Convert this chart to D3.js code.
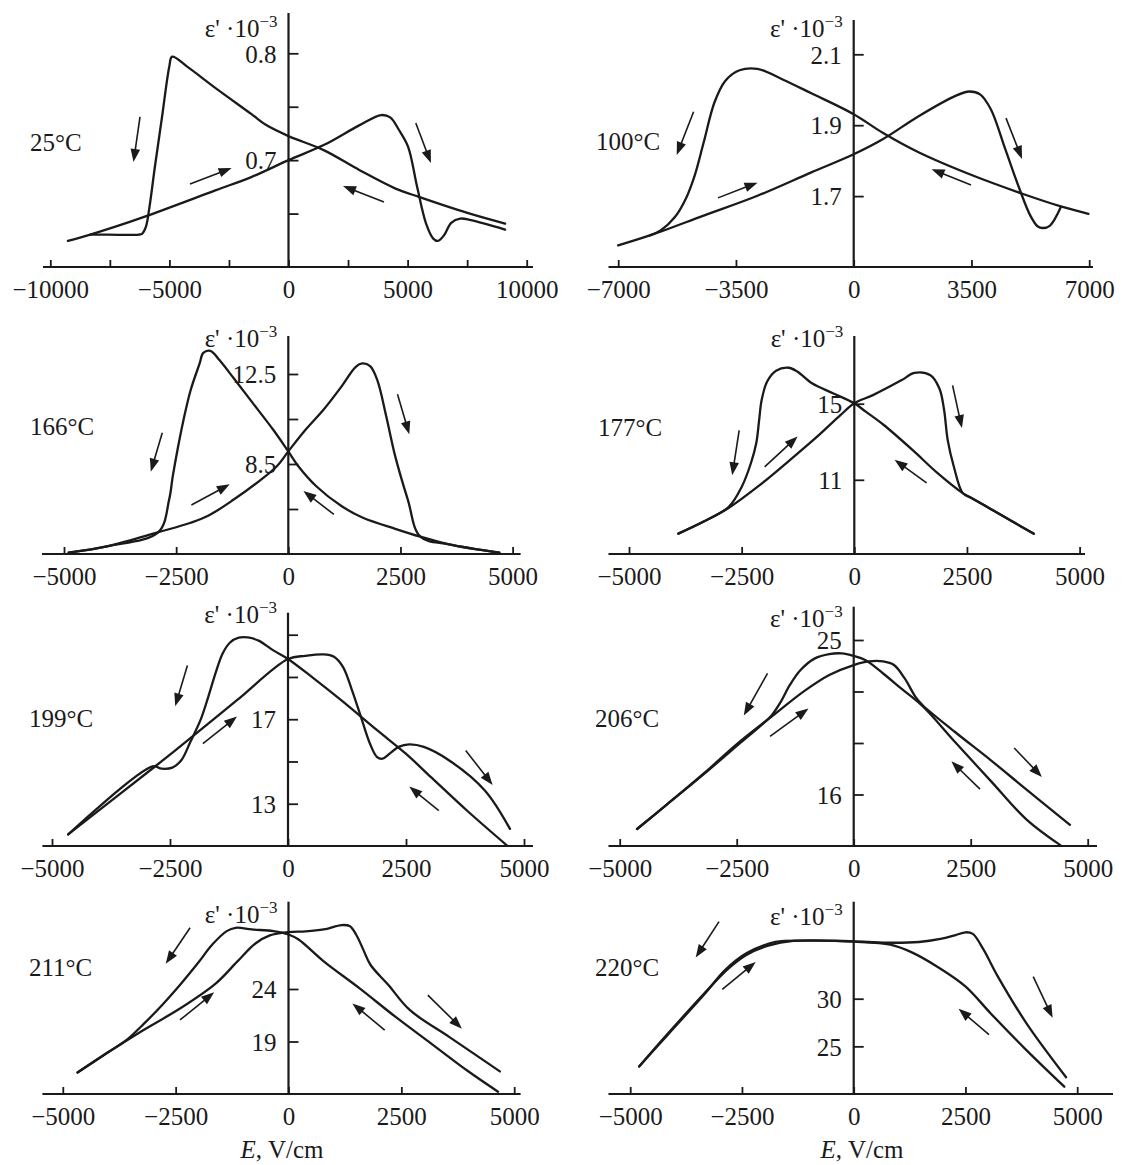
<!DOCTYPE html>
<html><head><meta charset="utf-8">
<script src="https://cdn.jsdelivr.net/npm/d3@7"></script>
<style>
body{margin:0;background:#fff}
svg text{font-family:"Liberation Serif","Times New Roman",serif;fill:#1a1a1a}
</style>
</head><body>
<svg id="chart" width="1123" height="1165"></svg>
<script>
// ---------- DATA ----------
const temps = ["25°C","100°C","166°C","177°C","199°C","206°C","211°C","220°C"];

const xTicksWide = [-10000,-7500,-5000,-2500,0,2500,5000,7500,10000];
const xLabelsWide = [-10000,-5000,0,5000,10000];
const xTicks7000 = [-7000,-3500,0,3500,7000];
const xTicks5000 = [-5000,-2500,0,2500,5000];

const yTicks25 = [0.65,0.7,0.75,0.8],  yLabels25 = [0.7,0.8];
const yTicks100 = [1.7,1.9,2.1],       yLabels100 = [1.7,1.9,2.1];
const yTicks166 = [6.5,8.5,10.5,12.5], yLabels166 = [8.5,12.5];
const yTicks177 = [11,15],             yLabels177 = [11,15];
const yTicks199 = [13,15,17,19,21],    yLabels199 = [13,17];
const yTicks206 = [16,19,22,25],       yLabels206 = [16,25];
const yTicks211 = [19,24],             yLabels211 = [19,24];
const yTicks220 = [25,30],             yLabels220 = [25,30];

// forward (increasing E) and reverse (decreasing E) sweeps: [E (V/cm), eps'*1e-3]
const fwd25 = [[-9259,0.6244],[-8324,0.6303],[-7300,0.6375],[-6062,0.6469],[-3046,0.6719],[-1538,0.6844],[0,0.7],[1478,0.7141],[2986,0.7328],[3891,0.7422],[4268,0.74],[4645,0.728],[5022,0.7125],[5399,0.675],[5776,0.6406],[6077,0.6266],[6273,0.6244],[6530,0.6297],[6831,0.6413],[7208,0.6453],[7661,0.6438],[9093,0.635]];
const rev25 = [[9093,0.6406],[7510,0.6506],[5474,0.6656],[4494,0.6734],[2986,0.6906],[1478,0.7094],[0,0.7225],[-935,0.7328],[-1538,0.7428],[-3046,0.7672],[-4253,0.7875],[-4886,0.7969],[-5006,0.7875],[-5308,0.7406],[-5609,0.6938],[-5836,0.6563],[-5987,0.6375],[-6138,0.6313],[-6288,0.6303],[-7570,0.6303],[-8324,0.6303]];

const fwd100 = [[-7000,1.561],[-6061,1.589],[-4460,1.645],[-2860,1.701],[-1259,1.767],[0,1.818],[875,1.861],[1942,1.926],[3009,1.982],[3436,1.995],[3756,1.987],[4076,1.945],[4503,1.833],[4929,1.720],[5250,1.645],[5463,1.615],[5623,1.610],[5837,1.617],[6157,1.669]];
const rev100 = [[6978,1.650],[6157,1.671],[5036,1.706],[3542,1.758],[1942,1.823],[875,1.878],[0,1.931],[-1259,1.990],[-2113,2.029],[-2860,2.059],[-3393,2.055],[-3820,2.025],[-4140,1.964],[-4460,1.851],[-4727,1.758],[-4994,1.692],[-5314,1.641],[-5740,1.603],[-6061,1.589]];

const fwd166 = [[-4896,4.56],[-4016,4.85],[-2896,5.47],[-2176,5.89],[-1776,6.21],[-1216,6.92],[-656,7.73],[-256,8.40],[0,9.06],[384,10.02],[784,10.91],[1184,11.94],[1504,12.82],[1648,12.97],[1824,12.85],[1984,12.23],[2184,10.61],[2384,8.84],[2664,6.92],[2944,5.27],[3584,4.93],[4704,4.56]];
const rev166 = [[4704,4.56],[3584,4.93],[2944,5.27],[2384,5.62],[1664,6.11],[1184,6.63],[624,7.51],[224,8.40],[0,9.06],[-336,10.02],[-816,11.27],[-1216,12.31],[-1536,13.12],[-1736,13.53],[-1896,13.44],[-1976,12.97],[-2176,11.79],[-2336,10.46],[-2456,9.28],[-2576,7.95],[-2656,6.92],[-2896,5.47],[-4016,4.85],[-4896,4.56]];

const fwd177 = [[-3905,8.17],[-3331,8.82],[-2790,9.52],[-2136,10.65],[-1339,12.22],[-781,13.36],[-303,14.41],[0,15.02],[414,15.45],[1052,16.24],[1331,16.62],[1690,16.50],[1889,15.80],[1993,14.67],[2072,13.10],[2208,11.70],[2407,10.30],[2600,10.04],[3045,9.44],[3500,8.82],[3985,8.17]];
const rev177 = [[3985,8.17],[3500,8.82],[3045,9.44],[2600,10.04],[2407,10.30],[1849,11.35],[1291,12.57],[654,13.88],[255,14.58],[0,15.02],[-462,15.54],[-940,16.07],[-1259,16.68],[-1458,16.89],[-1737,16.73],[-1937,16.15],[-2056,15.19],[-2112,14.14],[-2176,12.92],[-2295,11.87],[-2495,10.65],[-2790,9.57],[-3331,8.82],[-3905,8.17]];

const fwd199 = [[-4657,11.55],[-2831,14.74],[-2146,15.96],[-1081,17.90],[0,19.85],[365,20.00],[746,20.07],[974,19.96],[1164,19.48],[1355,18.38],[1545,17.11],[1735,15.85],[1887,15.21],[2001,15.13],[2154,15.37],[2344,15.69],[2572,15.81],[2877,15.69],[3409,15.06],[4170,13.63],[4703,11.81]];
const rev199 = [[4642,11.02],[3790,12.68],[3029,14.26],[2496,15.37],[1887,16.48],[1126,17.90],[517,18.98],[0,19.85],[-320,20.27],[-624,20.72],[-852,20.87],[-1043,20.86],[-1233,20.62],[-1385,20.11],[-1537,19.17],[-1689,18.06],[-1842,17.03],[-2070,15.92],[-2260,15.06],[-2450,14.71],[-2679,14.66],[-2869,14.77],[-4657,11.55]];

const fwd206 = [[-4629,13.99],[-3976,15.45],[-3209,17.21],[-2441,19.06],[-1673,20.71],[-1059,22.02],[-522,22.96],[0,23.54],[322,23.75],[629,23.75],[860,23.54],[1090,22.76],[1320,21.69],[1474,21.20],[2165,19.64],[2932,17.99],[3700,16.27],[4621,14.23]];
const rev206 = [[4429,13.02],[3700,14.52],[2932,16.78],[2165,19.06],[1474,21.14],[1013,22.18],[629,23.05],[246,23.83],[0,24.07],[-253,24.22],[-522,24.18],[-829,23.93],[-1136,23.25],[-1366,22.37],[-1558,21.40],[-1750,20.62],[-1980,20.03],[-2441,18.96],[-3209,17.17],[-3976,15.45],[-4629,13.99]];

const fwd211 = [[-4674,16.05],[-3997,17.97],[-3201,20.12],[-2405,22.14],[-1608,24.54],[-1131,26.63],[-733,28.33],[-414,29.10],[0,29.42],[382,29.48],[780,29.67],[1178,30.09],[1354,29.99],[1497,29.19],[1656,27.75],[1815,26.31],[2213,24.38],[2691,21.98],[3567,19.42],[4682,16.15]];
const rev211 = [[4642,14.22],[3965,16.21],[3169,18.78],[2373,21.34],[1576,24.06],[780,26.63],[223,28.71],[0,29.19],[-334,29.51],[-812,29.67],[-1170,29.83],[-1369,29.51],[-1688,28.23],[-2006,26.47],[-2405,24.38],[-2803,22.46],[-3201,20.70],[-3599,19.10],[-3997,17.97],[-4674,16.05]];

const fwd220 = [[-4800,22.89],[-4157,26.34],[-3355,30.49],[-2793,33.20],[-2392,34.61],[-1910,35.56],[-1348,36.06],[0,36.02],[658,35.88],[1461,35.95],[1942,36.27],[2263,36.65],[2504,36.97],[2665,36.80],[2905,35.14],[3226,32.32],[3869,27.39],[4751,21.76]];
const rev220 = [[4711,20.77],[3869,24.58],[3066,28.45],[2504,31.27],[1862,33.38],[1300,34.86],[819,35.67],[0,35.99],[-947,36.09],[-1750,35.95],[-2392,34.79],[-2873,33.03],[-3355,30.39],[-4157,26.23],[-4800,22.89]];

// direction arrows: [E1, eps1, E2, eps2] (from -> to)
const arrows25  = [[-6234,0.7404,-6507,0.6983],[-4135,0.6777,-2389,0.6927],[5344,0.7348,5978,0.6973],[4009,0.6608,2288,0.6758]];
const arrows100 = [[-4759,1.938,-5261,1.816],[-4034,1.695,-2859,1.738],[4527,1.920,5003,1.805],[3487,1.731,2315,1.776]];
const arrows166 = [[-2809,9.89,-3065,8.16],[-2160,6.68,-1304,7.60],[2434,11.60,2697,9.82],[1016,6.26,337,7.30]];
const arrows177 = [[-2555,13.60,-2709,11.24],[-1990,11.68,-1258,13.28],[2181,15.96,2389,13.72],[1604,10.84,894,12.06]];
const arrows199 = [[-2131,19.54,-2390,17.61],[-1803,15.84,-1081,17.13],[3765,15.52,4335,13.89],[3195,12.67,2570,13.81]];
const arrows206 = [[-1842,23.05,-2348,20.60],[-1788,19.39,-966,21.01],[3430,18.71,4021,17.02],[2699,16.31,2088,17.93]];
const arrows211 = [[-2180,29.84,-2720,26.40],[-2404,21.05,-1648,23.68],[3086,23.42,3841,20.22],[2131,20.09,1416,22.63]];
const arrows220 = [[-3013,38.09,-3535,34.33],[-2940,30.98,-2192,33.86],[4016,32.32,4450,27.99],[3027,26.23,2347,28.94]];

const xAxisTitle = "E";
const xAxisUnit = ", V/cm";

// ---------- PANEL DEFINITIONS ----------
const panels = [
  {t:temps[0], fwd:fwd25,  rev:rev25,  arr:arrows25,  xd:[-10000,10000], xt:xTicksWide, xl:xLabelsWide, yd:[0.6,0.8], yt:yTicks25,  yl:yLabels25},
  {t:temps[1], fwd:fwd100, rev:rev100, arr:arrows100, xd:[-7000,7000],   xt:xTicks7000, xl:xTicks7000,  yd:[1.5,2.1], yt:yTicks100, yl:yLabels100},
  {t:temps[2], fwd:fwd166, rev:rev166, arr:arrows166, xd:[-5000,5000],   xt:xTicks5000, xl:xTicks5000,  yd:[4.5,12.5],yt:yTicks166, yl:yLabels166},
  {t:temps[3], fwd:fwd177, rev:rev177, arr:arrows177, xd:[-5000,5000],   xt:xTicks5000, xl:xTicks5000,  yd:[7.1,15],  yt:yTicks177, yl:yLabels177},
  {t:temps[4], fwd:fwd199, rev:rev199, arr:arrows199, xd:[-5000,5000],   xt:xTicks5000, xl:xTicks5000,  yd:[11,21],   yt:yTicks199, yl:yLabels199},
  {t:temps[5], fwd:fwd206, rev:rev206, arr:arrows206, xd:[-5000,5000],   xt:xTicks5000, xl:xTicks5000,  yd:[13,25],   yt:yTicks206, yl:yLabels206},
  {t:temps[6], fwd:fwd211, rev:rev211, arr:arrows211, xd:[-5000,5000],   xt:xTicks5000, xl:xTicks5000,  yd:[14,24],   yt:yTicks211, yl:yLabels211},
  {t:temps[7], fwd:fwd220, rev:rev220, arr:arrows220, xd:[-5000,5000],   xt:xTicks5000, xl:xTicks5000,  yd:[20,30],   yt:yTicks220, yl:yLabels220}
];

// pixel layout of each panel
const layout = [
  {xr:[50.3,526.7],  xa:[43,533],      yr:[267,53.3],  top:13,    lab:[30,151],   eps:37,    title:null},
  {xr:[618.2,1089.2],xa:[608.5,1093],  yr:[267,54.3],  top:20,    lab:[596,150],  eps:37,    title:null},
  {xr:[64,512.6],    xa:[42,520.6],    yr:[554,374],   top:336,   lab:[30,435],   eps:346.5, title:null},
  {xr:[629,1079.6],  xa:[608.5,1085],  yr:[554,403.7], top:336,   lab:[598,436],  eps:346.5, title:null},
  {xr:[52,524],      xa:[42.4,533],    yr:[846,634.7], top:612.7, lab:[29,726.5], eps:622.5, title:null},
  {xr:[619.7,1087.7],xa:[608.5,1097],  yr:[846,640],   top:606.7, lab:[595,726.5],eps:626.5, title:null},
  {xr:[62.8,514.2],  xa:[42.4,520.6],  yr:[1094,989],  top:901.7, lab:[29,976],   eps:922.5, title:[282,1158]},
  {xr:[630.2,1077.2],xa:[608.5,1113],  yr:[1094,998.7],top:901.7, lab:[595,976],  eps:925,   title:[862,1158]}
];

// ---------- DRAW ----------
const svg = d3.select("#chart");
const INK = "#1a1a1a";
const FS = 25;

const line = (x,y) => d3.line().x(d=>x(d[0])).y(d=>y(d[1])).curve(d3.curveCatmullRom.alpha(0.5));

panels.forEach((P,i)=>{
  const L = layout[i];
  const x = d3.scaleLinear().domain(P.xd).range(L.xr);
  const y = d3.scaleLinear().domain(P.yd).range(L.yr);
  const g = svg.append("g");
  const x0 = x(0), yb = L.yr[0];

  g.append("line").attr("x1",L.xa[0]).attr("x2",L.xa[1]).attr("y1",yb).attr("y2",yb)
    .attr("stroke",INK).attr("stroke-width",2.2);
  g.append("line").attr("x1",x0).attr("x2",x0).attr("y1",L.top).attr("y2",yb+1)
    .attr("stroke",INK).attr("stroke-width",2.2);

  const xa = d3.axisBottom(x).tickValues(P.xt)
    .tickFormat(d => P.xl.includes(d) ? d3.format("d")(d) : "")
    .tickSizeInner(-7).tickSizeOuter(0).tickPadding(13);
  const gx = g.append("g").attr("transform",`translate(0,${yb})`).call(xa);
  gx.select(".domain").remove();
  gx.attr("font-family",null).attr("font-size",null);
  gx.selectAll(".tick line").attr("stroke",INK).attr("stroke-width",1.8);
  gx.selectAll(".tick text").attr("font-size",FS).attr("fill",INK);

  const ya = d3.axisLeft(y).tickValues(P.yt)
    .tickFormat(d => P.yl.includes(d) ? String(d) : "")
    .tickSizeInner(-10).tickSizeOuter(0).tickPadding(12);
  const gy = g.append("g").attr("transform",`translate(${x0},0)`).call(ya);
  gy.select(".domain").remove();
  gy.attr("font-family",null).attr("font-size",null);
  gy.selectAll(".tick line").attr("stroke",INK).attr("stroke-width",1.8);
  gy.selectAll(".tick text").attr("font-size",FS).attr("fill",INK).attr("dy","0.35em");

  const cap = g.append("text").attr("x",x0-11).attr("y",L.eps).attr("text-anchor","end")
    .attr("font-size",FS);
  cap.append("tspan").text("ε' ·10");
  cap.append("tspan").attr("font-size",17).attr("dy",-10).text("−3");

  g.append("text").attr("x",L.lab[0]).attr("y",L.lab[1]).attr("font-size",FS).text(P.t);

  const ln = line(x,y);
  [P.fwd,P.rev].forEach(s=>{
    g.append("path").attr("d",ln(s)).attr("fill","none").attr("stroke",INK)
      .attr("stroke-width",2.3).attr("stroke-linejoin","round").attr("stroke-linecap","round");
  });

  P.arr.forEach(a=>{
    const x1=x(a[0]), y1=y(a[1]), x2=x(a[2]), y2=y(a[3]);
    const dx=x2-x1, dy=y2-y1, len=Math.hypot(dx,dy), ux=dx/len, uy=dy/len;
    const hl=13, hw=4.8;
    const bx=x2-ux*hl, by=y2-uy*hl;
    g.append("line").attr("x1",x1).attr("y1",y1).attr("x2",bx+ux*2).attr("y2",by+uy*2)
      .attr("stroke",INK).attr("stroke-width",1.6);
    g.append("path")
      .attr("d",`M${x2},${y2}L${bx-uy*hw},${by+ux*hw}L${bx+uy*hw},${by-ux*hw}Z`)
      .attr("fill",INK);
  });

  if (L.title){
    const tt = g.append("text").attr("x",L.title[0]).attr("y",L.title[1])
      .attr("text-anchor","middle").attr("font-size",FS);
    tt.append("tspan").attr("font-style","italic").text(xAxisTitle);
    tt.append("tspan").text(xAxisUnit);
  }
});
</script>
</body></html>
